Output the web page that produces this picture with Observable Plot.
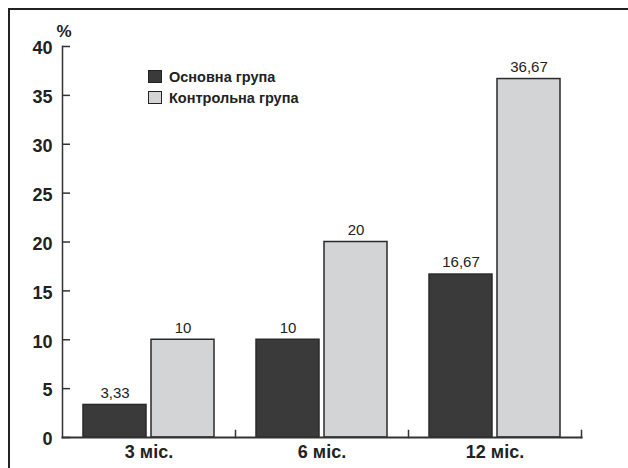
<!DOCTYPE html>
<html>
<head>
<meta charset="utf-8">
<script src="https://cdn.jsdelivr.net/npm/d3@7"></script>
<script src="https://cdn.jsdelivr.net/npm/@observablehq/plot@0.6"></script>
<style>
  html, body { margin: 0; padding: 0; background: #fff; }
  #wrap { position: relative; width: 628px; height: 468px; overflow: hidden;
          font-family: "Liberation Sans", Arial, sans-serif; }
  #wrap svg { position: absolute; left: 0; top: 0; }
  #border { position: absolute; left: 8px; top: 8px; width: 700px; height: 600px;
            border-left: 2px solid #222; border-top: 2px solid #222; pointer-events: none; }
  #legend { position: absolute; left: 148px; top: 66px; font-weight: bold; font-size: 14.5px; color: #222; }
  #legend .row { display: flex; align-items: center; height: 21px; }
  #legend .sw { width: 12px; height: 11px; border: 1.5px solid #222; margin-right: 7px; }
</style>
</head>
<body>
<div id="wrap"></div>
<script>
// Categories and series
const periods = ["3 міс.", "6 міс.", "12 міс."];
const groups = ["Основна група", "Контрольна група"];
const mainValues = [3.33, 10, 16.67];
const controlValues = [10, 20, 36.67];
const yTicks = [0, 5, 10, 15, 20, 25, 30, 35, 40];
const groupColors = ["#3a3a3a", "#d3d4d6"];

const data = periods.flatMap((p, i) => [
  {period: p, group: groups[0], value: mainValues[i]},
  {period: p, group: groups[1], value: controlValues[i]}
]);

const fmt = v => String(v).replace(".", ",");
const axisStroke = "#333";

const plot = Plot.plot({
  width: 628,
  height: 468,
  marginLeft: 62,
  marginRight: 47,
  marginTop: 46,
  marginBottom: 31,
  style: {fontFamily: "'Liberation Sans', Arial, sans-serif", background: "transparent", color: "#222"},
  fx: {domain: periods, padding: 0, axis: null},
  x: {domain: groups, paddingInner: 0.08, paddingOuter: 0.3, axis: null},
  y: {domain: [0, 40], axis: null},
  color: {domain: groups, range: groupColors},
  marks: [
    Plot.barY(data, {fx: "period", x: "group", y: "value", fill: "group", stroke: "#2a2a2a", strokeWidth: 1.5}),
    Plot.text(data, {fx: "period", x: "group", y: "value", text: d => fmt(d.value), dy: -12, fontSize: 15, fill: "#222"}),
    // axis lines and category separators
    Plot.frame({anchor: "left", facet: "super", stroke: axisStroke, strokeWidth: 1.5}),
    Plot.frame({anchor: "bottom", facet: "super", stroke: axisStroke, strokeWidth: 2}),
    Plot.frame({anchor: "right", insetTop: 384, stroke: axisStroke, strokeWidth: 1.5}),
    // y ticks (pointing inward) and labels
    Plot.axisY({ticks: yTicks, tickSize: -8, tickFormat: () => "", stroke: axisStroke, strokeWidth: 1.5, label: null}),
    Plot.axisY({ticks: yTicks, tickSize: 0, tickPadding: 10, dy: 2, fontSize: 18, fontWeight: "bold", fill: "#222", label: null}),
    Plot.text(["%"], {facet: "super", frameAnchor: "top-left", text: d => d, textAnchor: "middle", dx: 1.5, dy: -22, fontSize: 17, fontWeight: "bold", fill: "#222"}),
    Plot.axisFx({anchor: "bottom", tickSize: 0, tickPadding: 8, fontSize: 18, fontWeight: "bold", fill: "#222", label: null})
  ]
});

const wrap = document.getElementById("wrap");
wrap.appendChild(plot);

// legend
const legend = d3.select(wrap).append("div").attr("id", "legend");
groups.forEach((g, i) => {
  const row = legend.append("div").attr("class", "row");
  row.append("div").attr("class", "sw").style("background", groupColors[i]);
  row.append("span").text(g);
});

d3.select(wrap).append("div").attr("id", "border");
</script>
</body>
</html>
